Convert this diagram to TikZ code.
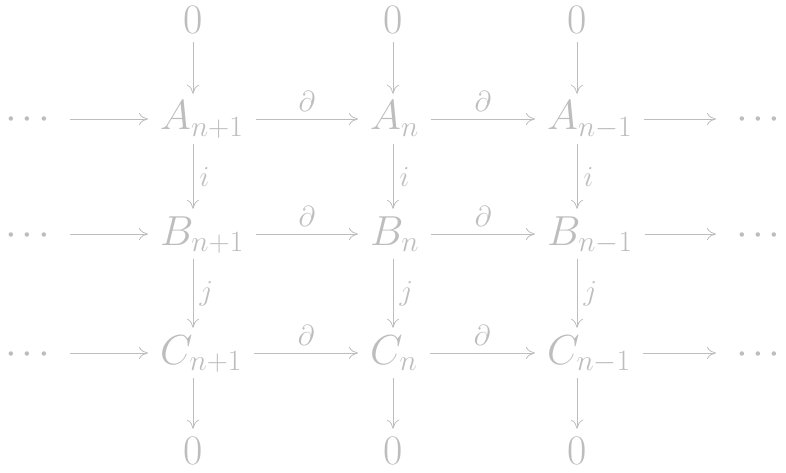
\RequirePackage{fix-cm}
\documentclass[tikz,border=0pt]{standalone}
\usetikzlibrary{arrows.meta}
\definecolor{lesGray}{HTML}{BDBDBD}
\tikzset{
  les obj/.style={anchor=base west, inner xsep=12pt, inner ysep=6pt, text height=30pt, text depth=8pt, font=\fontsize{42}{50}\selectfont, text=lesGray},
  les dots/.style={les obj, inner xsep=20pt},
  les zero/.style={inner sep=2pt, outer sep=6pt, font=\fontsize{42}{50}\selectfont, text=lesGray},
  les map/.style={draw=lesGray, line width=0.8pt, -{To[length=9pt,width=12pt]}},
  les label/.style={font=\fontsize{29}{35}\selectfont, text=lesGray},
}
\newcommand{\lesdots}{${\cdot}\mkern2mu{\cdot}\mkern2mu{\cdot}$}

\begin{document}
\begin{tikzpicture}[x=1pt,y=-1pt]
\useasboundingbox (0,0) rectangle (786,473);
% zeros
\node[les zero](z1)at(193,20){0};\node[les zero](z2)at(393,20){0};\node[les zero](z3)at(577,20){0};
\node[les zero](w1)at(193,451){0};\node[les zero](w2)at(393,451){0};\node[les zero](w3)at(577,451){0};
% rows
\node[les dots,anchor=base east](da)at(70,130){\lesdots};\node[les obj](a1)at(148,130){$A_{n+1}$};\node[les obj](a2)at(358,130){$A_n$};\node[les obj](a3)at(535,130){$A_{n-1}$};\node[les dots](ea)at(716,130){\lesdots};
\node[les dots,anchor=base east](db)at(70,245){\lesdots};\node[les obj](b1)at(148,245){$B_{n+1}$};\node[les obj](b2)at(358,245){$B_n$};\node[les obj](b3)at(535,245){$B_{n-1}$};\node[les dots](eb)at(716,245){\lesdots};
\node[les dots,anchor=base east](dc)at(70,364){\lesdots};\node[les obj](c1)at(148,364){$C_{n+1}$};\node[les obj](c2)at(358,364){$C_n$};\node[les obj](c3)at(535,364){$C_{n-1}$};\node[les dots](ec)at(716,364){\lesdots};
% horizontal maps
\foreach \r in {a,b,c}{
\draw[les map](d\r)--(\r1);\draw[les map](\r1)--node[les label,above=4pt]{$\partial$}(\r2);
\draw[les map](\r2)--node[les label,above=4pt]{$\partial$}(\r3);\draw[les map](\r3)--(e\r);
}
% vertical maps
\foreach \k in {1,2,3}{
\draw[les map](z\k)--(z\k|-a\k.north);
\draw[les map](a\k.south-|z\k)--node[les label,right=3pt]{$i$}(b\k.north-|z\k);
\draw[les map](b\k.south-|z\k)--node[les label,right=3pt]{$j$}(c\k.north-|z\k);
\draw[les map](c\k.south-|z\k)--(w\k);
}
\end{tikzpicture}
\end{document}
